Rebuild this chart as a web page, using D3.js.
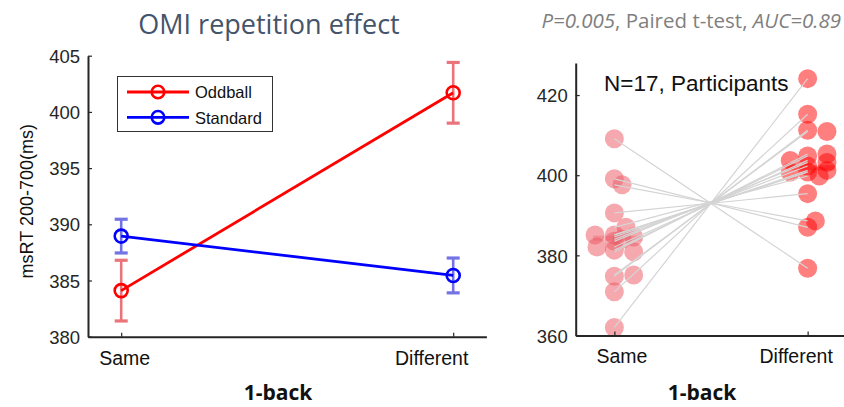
<!DOCTYPE html>
<html>
<head>
<meta charset="utf-8">
<script src="https://cdn.jsdelivr.net/npm/d3@7"></script>
<style>
  html, body { margin: 0; padding: 0; background: #fff; }
  svg { display: block; }
  .tick text { font-family: "Liberation Sans", Arial, sans-serif; }
</style>
</head>
<body>
<svg id="chart" width="844" height="407"></svg>
<script>
// ---- Group means (left panel) ----
const conditions = ["Same", "Different"];
const oddballMean = [384.1, 401.7];
const oddballSem = [2.7, 2.7];
const standardMean = [388.95, 385.45];
const standardSem = [1.5, 1.55];
const leftYTicks = [380, 385, 390, 395, 400, 405];

// ---- Participant values (right panel), index i = same participant ----
const sameRT = [409.1, 399.1, 397.6, 390.6, 387.0, 385.1, 385.1, 384.6, 384.0, 383.5, 382.1, 381.3, 380.9, 375.1, 374.8, 370.9, 362.0];
const diffRT = [376.8, 387.0, 388.6, 395.4, 399.8, 400.8, 400.8, 401.2, 402.3, 403.2, 403.7, 404.8, 405.3, 410.9, 411.2, 415.2, 424.1];
// horizontal scatter offsets, in category units
const sameJitter = [0, 0, 0.04, 0, 0.06, -0.1, 0, 0.1, 0.04, 0, -0.09, 0, 0.1, 0.1, 0, 0, 0];
const diffJitter = [0, 0, 0.04, 0, 0.06, -0.09, 0, 0.1, 0, 0.1, -0.09, 0, 0.1, 0.1, 0, 0, 0];
const rightYTicks = [360, 380, 400, 420];

const titleText = "OMI repetition effect";
const statsText = [
  { t: "P=0.005", italic: true },
  { t: ", Paired t-test, ", italic: false },
  { t: "AUC=0.89", italic: true }
];
const countText = "N=17, Participants";
const xAxisTitle = "1-back";
const yAxisTitle = "msRT 200-700(ms)";

const svg = d3.select("#chart");
const axisColor = "#262626";
const calibriLike = "'Open Sans', 'Noto Sans', sans-serif";
const arialLike = "'Liberation Sans', Arial, sans-serif";

// ================= Left panel =================
const L = { x0: 88, x1: 486.4, y0: 336.7, y1: 55.7 };
const xL = d3.scaleLinear().domain([0.9, 2.1]).range([L.x0, L.x1]);
const yL = d3.scaleLinear().domain([380, 405]).range([L.y0, L.y1]);

const gL = svg.append("g");

function styleAxis(g) {
  g.select(".domain").attr("stroke", axisColor).attr("stroke-width", 2);
  g.selectAll(".tick line").attr("stroke", axisColor).attr("stroke-width", 1.2);
}

// y axis (ticks pointing inward)
const yAxisL = gL.append("g")
  .attr("transform", `translate(${L.x0},0)`)
  .call(d3.axisLeft(yL).tickValues(leftYTicks).tickSizeInner(-4).tickSizeOuter(0).tickPadding(8));
styleAxis(yAxisL);
yAxisL.selectAll(".tick text").attr("font-size", 18.5).attr("fill", axisColor).attr("dy", "0.36em");

// x axis
const xAxisL = gL.append("g")
  .attr("transform", `translate(0,${L.y0})`)
  .call(d3.axisBottom(xL).tickValues([1, 2]).tickFormat(d => conditions[d - 1]).tickSizeInner(-4).tickSizeOuter(0).tickPadding(14));
styleAxis(xAxisL);
xAxisL.selectAll(".tick text")
  .attr("font-family", calibriLike).attr("font-size", 19.5).attr("fill", "#111")
  .attr("dx", (d, i) => i === 0 ? 3 : -22);

// axis titles
gL.append("text")
  .attr("transform", `translate(33,${(L.y0 + L.y1) / 2 + 5}) rotate(-90)`)
  .attr("text-anchor", "middle")
  .attr("font-family", arialLike).attr("font-size", 18).attr("fill", "#111")
  .text(yAxisTitle);
gL.append("text")
  .attr("x", 278).attr("y", 400)
  .attr("text-anchor", "middle")
  .attr("font-family", calibriLike).attr("font-size", 21).attr("font-weight", "bold").attr("fill", "#111")
  .text(xAxisTitle);
gL.append("text")
  .attr("x", 269).attr("y", 34)
  .attr("text-anchor", "middle")
  .attr("font-family", calibriLike).attr("font-size", 27).attr("fill", "#44546a")
  .text(titleText);

const series = [
  { name: "Oddball", mean: oddballMean, sem: oddballSem, color: "#ff0000", errColor: "#e97479" },
  { name: "Standard", mean: standardMean, sem: standardSem, color: "#0000ff", errColor: "#7373e6" }
];

// error bars
series.forEach(s => {
  const eg = gL.append("g").attr("stroke", s.errColor).attr("fill", "none");
  s.mean.forEach((m, i) => {
    const x = xL(i + 1);
    eg.append("line").attr("x1", x).attr("x2", x)
      .attr("y1", yL(m - s.sem[i])).attr("y2", yL(m + s.sem[i])).attr("stroke-width", 2.6);
    [m - s.sem[i], m + s.sem[i]].forEach(v => {
      eg.append("line").attr("x1", x - 6.5).attr("x2", x + 6.5)
        .attr("y1", yL(v)).attr("y2", yL(v)).attr("stroke-width", 3.2);
    });
  });
});

// connecting lines and open markers
const lineGen = d3.line().x((d, i) => xL(i + 1)).y(d => yL(d));
series.forEach(s => {
  gL.append("path").datum(s.mean)
    .attr("d", lineGen).attr("fill", "none")
    .attr("stroke", s.color).attr("stroke-width", 2.8);
});
series.forEach(s => {
  gL.selectAll(null).data(s.mean).join("circle")
    .attr("cx", (d, i) => xL(i + 1)).attr("cy", d => yL(d))
    .attr("r", 6.5).attr("fill", "none")
    .attr("stroke", s.color).attr("stroke-width", 2.6);
});

// legend
const lg = gL.append("g");
lg.append("rect").attr("x", 117.5).attr("y", 76.5).attr("width", 155).attr("height", 55)
  .attr("fill", "#fff").attr("stroke", "#333").attr("stroke-width", 1);
series.forEach((s, i) => {
  const y = 92 + i * 25.3;
  lg.append("line").attr("x1", 127).attr("x2", 189).attr("y1", y).attr("y2", y)
    .attr("stroke", s.color).attr("stroke-width", 2.8);
  lg.append("circle").attr("cx", 158).attr("cy", y).attr("r", 6.3)
    .attr("fill", "none").attr("stroke", s.color).attr("stroke-width", 2.6);
  lg.append("text").attr("x", 195).attr("y", y + 6.2)
    .attr("font-family", arialLike).attr("font-size", 16.5).attr("fill", "#111")
    .text(s.name);
});

// ================= Right panel =================
const R = { x0: 575.7, x1: 846.3, y0: 335.5, y1: 63 };
const xR = d3.scaleLinear().domain([0.8, 2.2]).range([R.x0, R.x1]);
const yR = d3.scaleLinear().domain([360, 428]).range([R.y0, R.y1]);

const gR = svg.append("g");

// participant markers
const sameFill = "rgb(235,90,100)";
const diffFill = "rgb(255,0,0)";
gR.selectAll(null).data(sameRT).join("circle")
  .attr("cx", (d, i) => xR(1 + sameJitter[i])).attr("cy", d => yR(d))
  .attr("r", 9.5).attr("fill", sameFill).attr("fill-opacity", 0.52);
gR.selectAll(null).data(diffRT).join("circle")
  .attr("cx", (d, i) => xR(2 + diffJitter[i])).attr("cy", d => yR(d))
  .attr("r", 9.5).attr("fill", diffFill).attr("fill-opacity", 0.5);

// group mean bars
[[1, d3.mean(sameRT), sameFill], [2, d3.mean(diffRT), diffFill]].forEach(([c, m, col]) => {
  gR.append("line")
    .attr("x1", xR(c - 0.11)).attr("x2", xR(c + 0.14))
    .attr("y1", yR(m)).attr("y2", yR(m))
    .attr("stroke", col).attr("stroke-opacity", 0.35).attr("stroke-width", 5);
});

// paired lines
gR.selectAll(null).data(sameRT).join("line")
  .attr("x1", xR(1)).attr("x2", xR(2))
  .attr("y1", d => yR(d)).attr("y2", (d, i) => yR(diffRT[i]))
  .attr("stroke", "#d4d4d4").attr("stroke-width", 1.2);

// axes
const yAxisR = gR.append("g")
  .attr("transform", `translate(${R.x0},0)`)
  .call(d3.axisLeft(yR).tickValues(rightYTicks).tickSizeInner(-4).tickSizeOuter(0).tickPadding(8));
styleAxis(yAxisR);
yAxisR.selectAll(".tick text").attr("font-size", 18.5).attr("fill", axisColor).attr("dy", "0.36em");

const xAxisR = gR.append("g")
  .attr("transform", `translate(0,${R.y0})`)
  .call(d3.axisBottom(xR).tickValues([1, 2]).tickFormat(d => conditions[d - 1]).tickSizeInner(-4).tickSizeOuter(0).tickPadding(14));
styleAxis(xAxisR);
xAxisR.selectAll(".tick text")
  .attr("font-family", calibriLike).attr("font-size", 19.5).attr("fill", "#111")
  .attr("dx", (d, i) => i === 0 ? 7 : -12);

gR.append("text")
  .attr("x", 702).attr("y", 400)
  .attr("text-anchor", "middle")
  .attr("font-family", calibriLike).attr("font-size", 21).attr("font-weight", "bold").attr("fill", "#111")
  .text(xAxisTitle);

gR.append("text")
  .attr("x", 604).attr("y", 91)
  .attr("font-family", arialLike).attr("font-size", 22.5).attr("fill", "#111")
  .text(countText);

const st = gR.append("text")
  .attr("x", 841).attr("y", 28)
  .attr("text-anchor", "end")
  .attr("font-family", calibriLike).attr("font-size", 20.5).attr("fill", "#7f7f7f");
statsText.forEach(p => {
  st.append("tspan").attr("font-style", p.italic ? "italic" : "normal").text(p.t);
});
</script>
</body>
</html>
